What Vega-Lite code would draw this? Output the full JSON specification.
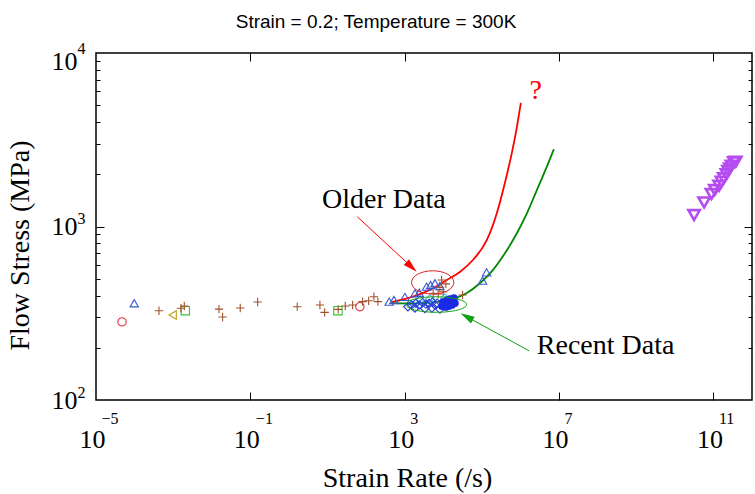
{
  "$schema": "https://vega.github.io/schema/vega-lite/v6.json",
  "autosize": "none",
  "padding": {"left": 96, "top": 53, "right": 3, "bottom": 94},
  "width": 656,
  "height": 347,
  "background": "white",
  "config": {
    "view": {"stroke": "#000", "strokeWidth": 1.5},
    "axis": {"grid": false, "labelFont": "Liberation Serif", "titleFont": "Liberation Serif", "labelColor": "#000", "titleColor": "#000", "tickColor": "#000", "labelFlush": false, "labelOverlap": false, "labelBound": false, "domain": false, "titleFontWeight": "normal"}
  },
  "title": {"text": "Strain = 0.2; Temperature = 300K", "font": "Liberation Sans", "fontSize": 19, "fontWeight": "normal", "color": "#000", "anchor": "middle", "frame": "group", "offset": 8, "dx": -48},
  "datasets": {
    "curves": [
      {"curve": "Older", "x": 466, "y": 367},
      {"curve": "Older", "x": 1630, "y": 394},
      {"curve": "Older", "x": 5380, "y": 440},
      {"curve": "Older", "x": 12390, "y": 492},
      {"curve": "Older", "x": 26900, "y": 547},
      {"curve": "Older", "x": 58500, "y": 641},
      {"curve": "Older", "x": 134800, "y": 836},
      {"curve": "Older", "x": 244800, "y": 1197},
      {"curve": "Older", "x": 394400, "y": 1782},
      {"curve": "Older", "x": 598400, "y": 2655},
      {"curve": "Older", "x": 807000, "y": 3741},
      {"curve": "Older", "x": 1023000, "y": 5155},
      {"curve": "Recent", "x": 466, "y": 362},
      {"curve": "Recent", "x": 1630, "y": 360},
      {"curve": "Recent", "x": 4500, "y": 364},
      {"curve": "Recent", "x": 17740, "y": 382},
      {"curve": "Recent", "x": 40830, "y": 414},
      {"curve": "Recent", "x": 88800, "y": 471},
      {"curve": "Recent", "x": 192800, "y": 561},
      {"curve": "Recent", "x": 394400, "y": 701},
      {"curve": "Recent", "x": 807000, "y": 914},
      {"curve": "Recent", "x": 1466000, "y": 1191},
      {"curve": "Recent", "x": 2660000, "y": 1622},
      {"curve": "Recent", "x": 4830000, "y": 2212},
      {"curve": "Recent", "x": 7330000, "y": 2787}
    ],
    "points": [
      {"s": "cyan", "x": 2480, "y": 377},
      {"s": "cyan", "x": 4500, "y": 382},
      {"s": "cyan", "x": 11000, "y": 387},
      {"s": "circle", "x": 4.72e-5, "y": 282},
      {"s": "circle", "x": 69, "y": 345},
      {"s": "tri", "x": 9.8e-5, "y": 361},
      {"s": "tri", "x": 396, "y": 369},
      {"s": "tri", "x": 525, "y": 377},
      {"s": "tri", "x": 1012, "y": 393},
      {"s": "tri", "x": 1840, "y": 412},
      {"s": "tri", "x": 2377, "y": 415},
      {"s": "tri", "x": 3690, "y": 450},
      {"s": "tri", "x": 4690, "y": 460},
      {"s": "tri", "x": 6060, "y": 471},
      {"s": "tri", "x": 8170, "y": 454},
      {"s": "tri", "x": 104000, "y": 488},
      {"s": "tri", "x": 132400, "y": 544},
      {"s": "tleft", "x": 9.7e-4, "y": 309},
      {"s": "square", "x": 2.06e-3, "y": 327},
      {"s": "square", "x": 18.6, "y": 327},
      {"s": "plus", "x": 4.28e-4, "y": 327},
      {"s": "plus", "x": 1.59e-3, "y": 338},
      {"s": "plus", "x": 1.94e-3, "y": 348},
      {"s": "plus", "x": 0.0154, "y": 334},
      {"s": "plus", "x": 0.0191, "y": 301},
      {"s": "plus", "x": 0.0547, "y": 339},
      {"s": "plus", "x": 0.1545, "y": 367},
      {"s": "plus", "x": 1.64, "y": 345},
      {"s": "plus", "x": 6.35, "y": 353},
      {"s": "plus", "x": 8.41, "y": 320},
      {"s": "plus", "x": 18.9, "y": 333},
      {"s": "plus", "x": 28.8, "y": 348},
      {"s": "plus", "x": 44.7, "y": 353},
      {"s": "plus", "x": 81, "y": 369},
      {"s": "plus", "x": 116, "y": 373},
      {"s": "plus", "x": 159, "y": 394},
      {"s": "plus", "x": 202, "y": 369},
      {"s": "plus", "x": 9040, "y": 492},
      {"s": "plus", "x": 11660, "y": 467},
      {"s": "plus", "x": 5470, "y": 412},
      {"s": "plus", "x": 7380, "y": 408},
      {"s": "plus", "x": 9930, "y": 421},
      {"s": "plus", "x": 31600, "y": 403},
      {"s": "plus", "x": 8170, "y": 446},
      {"s": "diamond", "x": 1210, "y": 345},
      {"s": "diamond", "x": 1510, "y": 353},
      {"s": "diamond", "x": 1950, "y": 361},
      {"s": "diamond", "x": 2375, "y": 353},
      {"s": "diamond", "x": 2910, "y": 364},
      {"s": "diamond", "x": 3540, "y": 357},
      {"s": "diamond", "x": 4310, "y": 361},
      {"s": "diamond", "x": 5280, "y": 367},
      {"s": "diamond", "x": 6060, "y": 353},
      {"s": "diamond", "x": 6950, "y": 361},
      {"s": "diamond", "x": 1840, "y": 339},
      {"s": "diamond", "x": 3330, "y": 337},
      {"s": "diamond", "x": 5070, "y": 339},
      {"s": "diamond", "x": 8170, "y": 334}
    ],
    "dense": [
      {"x": 9200, "y": 348},
      {"x": 10990, "y": 357},
      {"x": 13150, "y": 362},
      {"x": 15740, "y": 367},
      {"x": 17750, "y": 372},
      {"x": 11670, "y": 344},
      {"x": 13960, "y": 348},
      {"x": 16710, "y": 353},
      {"x": 20000, "y": 362},
      {"x": 9770, "y": 367},
      {"x": 12390, "y": 377},
      {"x": 14820, "y": 382},
      {"x": 18830, "y": 387}
    ],
    "purple": [
      {"x": 3.16e10, "y": 1164},
      {"x": 5.74e10, "y": 1377},
      {"x": 8.93e10, "y": 1538},
      {"x": 1.087e11, "y": 1622},
      {"x": 1.406e11, "y": 1717},
      {"x": 1.622e11, "y": 1811},
      {"x": 1.86e11, "y": 1896},
      {"x": 2.18e11, "y": 2000},
      {"x": 2.4e11, "y": 2089},
      {"x": 2.66e11, "y": 2163},
      {"x": 2.94e11, "y": 2241},
      {"x": 3.38e11, "y": 2345},
      {"x": 3.8e11, "y": 2362}
    ],
    "ellipses": [
      {"name": "Older", "x": 5310, "y": 476},
      {"name": "Recent", "x": 6550, "y": 355}
    ],
    "arrows": [
      {"name": "Older", "x": 58.8, "y": 1139, "x2": 1500, "y2": 585},
      {"name": "Recent", "x": 1680000, "y": 192, "x2": 40360, "y2": 302}
    ],
    "notes": [
      {"t": "Older Data", "x": 289, "y": 1274},
      {"t": "Recent Data", "x": 161000000, "y": 183},
      {"t": "?", "x": 2500000, "y": 5433}
    ]
  },
  "resolve": {"axis": {"x": "independent", "y": "independent"}, "scale": {"color": "independent", "shape": "independent"}},
  "layer": [
    {
      "data": {"name": "curves"},
      "mark": {"type": "line", "strokeWidth": 1.8, "interpolate": "monotone"},
      "encoding": {
        "x": {"field": "x", "type": "quantitative", "scale": {"type": "log", "domain": [1e-5, 1e12], "nice": false},
          "axis": {"orient": "bottom", "values": [1e-5, 1e-1, 1e3, 1e7, 1e11], "labelExpr": "'10'", "labelAlign": "right", "labelOffset": 9, "labelBaseline": "alphabetic", "labelPadding": 47, "labelFontSize": 26, "ticks": false,
            "title": "Strain Rate (/s)", "titleFontSize": 28, "titleX": 311, "titleY": 86, "titleBaseline": "alphabetic", "titleAlign": "center"}},
        "y": {"field": "y", "type": "quantitative", "scale": {"type": "log", "domain": [100, 10000], "nice": false},
          "axis": {"orient": "left", "values": [100, 1000, 10000], "labelExpr": "'10'", "labelAlign": "right", "labelBaseline": "alphabetic", "labelPadding": 19, "labelFontSize": 26,
            "labelOffset": {"condition": {"test": "datum.value > 5000", "value": 16}, "value": 8}, "ticks": false,
            "title": "Flow Stress (MPa)", "titleFontSize": 28, "titleX": -68, "titleY": 192, "titleBaseline": "alphabetic", "titleAlign": "center", "titleAngle": 270}},
        "detail": {"field": "curve"},
        "color": {"field": "curve", "type": "nominal", "scale": {"domain": ["Older", "Recent"], "range": ["#ff0000", "#008800"]}, "legend": null}
      }
    },
    {
      "data": {"name": "points"},
      "mark": {"type": "point", "filled": false, "strokeWidth": 1.1, "size": 70, "opacity": 1},
      "encoding": {
        "x": {"field": "x", "type": "quantitative", "scale": {"type": "log", "domain": [1e-5, 1e12], "nice": false},
          "axis": {"orient": "bottom", "values": [1e-5, 1e-1, 1e3, 1e7, 1e11], "labelExpr": "format(round(log(datum.value)/LN10), 'd')", "labelAlign": "left", "labelOffset": 5, "labelBaseline": "alphabetic", "labelPadding": 23, "labelFontSize": 16, "ticks": false, "title": null}},
        "y": {"field": "y", "type": "quantitative", "scale": {"type": "log", "domain": [100, 10000], "nice": false},
          "axis": {"orient": "left", "values": [100, 1000, 10000], "labelExpr": "format(round(log(datum.value)/LN10), 'd')", "labelAlign": "left", "labelBaseline": "alphabetic", "labelPadding": 19, "labelFontSize": 16,
            "labelOffset": {"condition": {"test": "datum.value > 5000", "value": 0}, "value": -3}, "ticks": false, "title": null}},
        "shape": {"field": "s", "type": "nominal", "scale": {"domain": ["cyan", "circle", "tri", "tleft", "square", "plus", "diamond"], "range": ["diamond", "circle", "triangle-up", "triangle-left", "square", "M-1,0L1,0M0,-1L0,1", "diamond"]}, "legend": null},
        "color": {"field": "s", "type": "nominal", "scale": {"domain": ["cyan", "circle", "tri", "tleft", "square", "plus", "diamond"], "range": ["#40c8e8", "#e8323c", "#3a5bd0", "#b8a020", "#30c830", "#a0522d", "#2a3fd8"]}, "legend": null}
      }
    },
    {
      "data": {"name": "dense"},
      "mark": {"type": "point", "filled": true, "shape": "circle", "size": 60, "color": "#1a2be6", "opacity": 1},
      "encoding": {
        "x": {"field": "x", "type": "quantitative", "scale": {"type": "log", "domain": [1e-5, 1e12], "nice": false},
          "axis": {"orient": "bottom", "values": [1e-1, 1e3, 1e7, 1e11], "labels": false, "tickSize": -8, "tickWidth": 1, "title": null}},
        "y": {"field": "y", "type": "quantitative", "scale": {"type": "log", "domain": [100, 10000], "nice": false},
          "axis": {"orient": "left", "values": [1000], "labels": false, "tickSize": -8, "tickWidth": 1, "title": null}}
      }
    },
    {
      "data": {"name": "purple"},
      "mark": {"type": "point", "filled": false, "shape": "triangle-down", "size": 130, "strokeWidth": 2.6, "color": "#b44cf0", "opacity": 1},
      "encoding": {
        "x": {"field": "x", "type": "quantitative", "scale": {"type": "log", "domain": [1e-5, 1e12], "nice": false},
          "axis": {"orient": "top", "values": [1e-1, 1e3, 1e7, 1e11], "labels": false, "tickSize": -8, "tickWidth": 1, "title": null}},
        "y": {"field": "y", "type": "quantitative", "scale": {"type": "log", "domain": [100, 10000], "nice": false},
          "axis": {"orient": "left", "values": [200, 300, 400, 500, 600, 700, 800, 900, 2000, 3000, 4000, 5000, 6000, 7000, 8000, 9000], "labels": false, "tickSize": -4, "tickWidth": 1, "title": null}}
      }
    },
    {
      "data": {"name": "ellipses"},
      "transform": [{"filter": "datum.name === 'Older'"}],
      "mark": {"type": "point", "filled": false, "shape": "M-1,0A1,0.551,0,1,1,1,0A1,0.551,0,1,1,-1,0Z", "size": 1789, "strokeWidth": 1, "color": "#e02020", "opacity": 1},
      "encoding": {
        "x": {"field": "x", "type": "quantitative", "scale": {"type": "log", "domain": [1e-5, 1e12], "nice": false}, "axis": null},
        "y": {"field": "y", "type": "quantitative", "scale": {"type": "log", "domain": [100, 10000], "nice": false},
          "axis": {"orient": "right", "values": [1000], "labels": false, "tickSize": -8, "tickWidth": 1, "title": null}}
      }
    },
    {
      "data": {"name": "ellipses"},
      "transform": [{"filter": "datum.name === 'Recent'"}],
      "mark": {"type": "point", "filled": false, "shape": "M-1,0A1,0.255,0,1,1,1,0A1,0.255,0,1,1,-1,0Z", "size": 3684, "strokeWidth": 1, "color": "#10a010", "opacity": 1},
      "encoding": {
        "x": {"field": "x", "type": "quantitative", "scale": {"type": "log", "domain": [1e-5, 1e12], "nice": false}, "axis": null},
        "y": {"field": "y", "type": "quantitative", "scale": {"type": "log", "domain": [100, 10000], "nice": false},
          "axis": {"orient": "right", "values": [200, 300, 400, 500, 600, 700, 800, 900, 2000, 3000, 4000, 5000, 6000, 7000, 8000, 9000], "labels": false, "tickSize": -4, "tickWidth": 1, "title": null}}
      }
    },
    {
      "data": {"name": "arrows"},
      "mark": {"type": "rule", "strokeWidth": 1},
      "encoding": {
        "x": {"field": "x", "type": "quantitative", "scale": {"type": "log", "domain": [1e-5, 1e12], "nice": false}, "axis": null},
        "y": {"field": "y", "type": "quantitative", "scale": {"type": "log", "domain": [100, 10000], "nice": false}, "axis": null},
        "x2": {"field": "x2"},
        "y2": {"field": "y2"},
        "color": {"field": "name", "type": "nominal", "scale": {"domain": ["Older", "Recent"], "range": ["#ff0000", "#10a010"]}, "legend": null}
      }
    },
    {
      "data": {"name": "arrows"},
      "transform": [{"filter": "datum.name === 'Older'"}],
      "mark": {"type": "point", "filled": true, "shape": "M0,-1L0.55,1L-0.55,1Z", "size": 196, "angle": 132.8, "color": "#ff0000", "opacity": 1, "strokeWidth": 0},
      "encoding": {
        "x": {"field": "x2", "type": "quantitative", "scale": {"type": "log", "domain": [1e-5, 1e12], "nice": false}, "axis": null},
        "y": {"field": "y2", "type": "quantitative", "scale": {"type": "log", "domain": [100, 10000], "nice": false}, "axis": null}
      }
    },
    {
      "data": {"name": "arrows"},
      "transform": [{"filter": "datum.name === 'Recent'"}],
      "mark": {"type": "point", "filled": true, "shape": "M0,-1L0.55,1L-0.55,1Z", "size": 196, "angle": 298.6, "color": "#10a010", "opacity": 1, "strokeWidth": 0},
      "encoding": {
        "x": {"field": "x2", "type": "quantitative", "scale": {"type": "log", "domain": [1e-5, 1e12], "nice": false}, "axis": null},
        "y": {"field": "y2", "type": "quantitative", "scale": {"type": "log", "domain": [100, 10000], "nice": false}, "axis": null}
      }
    },
    {
      "data": {"name": "notes"},
      "mark": {"type": "text", "font": "Liberation Serif", "fontSize": 28, "align": "center", "baseline": "alphabetic"},
      "encoding": {
        "x": {"field": "x", "type": "quantitative", "scale": {"type": "log", "domain": [1e-5, 1e12], "nice": false}, "axis": null},
        "y": {"field": "y", "type": "quantitative", "scale": {"type": "log", "domain": [100, 10000], "nice": false}, "axis": null},
        "text": {"field": "t"},
        "color": {"condition": {"test": "datum.t === '?'", "value": "#ff0000"}, "value": "#000000"}
      }
    }
  ]
}
